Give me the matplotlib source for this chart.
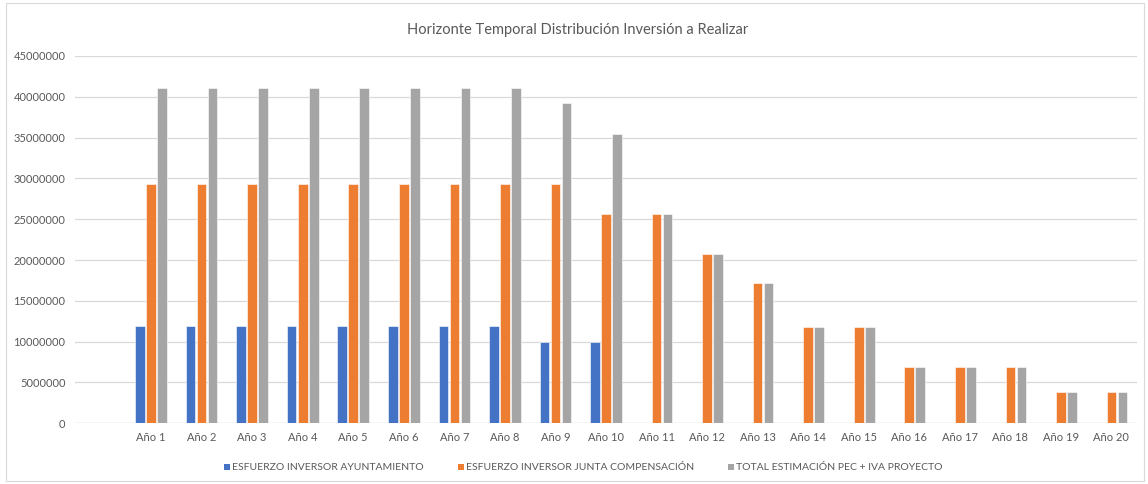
import matplotlib
matplotlib.use("Agg")
import matplotlib.pyplot as plt
from matplotlib.patches import Rectangle
import numpy as np

categories = ["", "Año 1", "Año 2", "Año 3", "Año 4", "Año 5", "Año 6", "Año 7", "Año 8", "Año 9", "Año 10",
              "Año 11", "Año 12", "Año 13", "Año 14", "Año 15", "Año 16", "Año 17", "Año 18", "Año 19", "Año 20"]
ayuntamiento = [0, 11900000, 11900000, 11900000, 11900000, 11900000, 11900000, 11900000, 11900000, 9900000, 9900000,
                0, 0, 0, 0, 0, 0, 0, 0, 0, 0]
junta = [0, 29300000, 29300000, 29300000, 29300000, 29300000, 29300000, 29300000, 29300000, 29300000, 25600000,
         25600000, 20700000, 17200000, 11800000, 11800000, 6950000, 6950000, 6950000, 3870000, 3870000]
total = [0, 41100000, 41100000, 41100000, 41100000, 41100000, 41100000, 41100000, 41100000, 39200000, 35500000,
         25600000, 20700000, 17200000, 11800000, 11800000, 6950000, 6950000, 6950000, 3870000, 3870000]
series_names = ["ESFUERZO INVERSOR AYUNTAMIENTO", "ESFUERZO INVERSOR JUNTA COMPENSACIÓN",
                "TOTAL ESTIMACIÓN PEC + IVA PROYECTO"]
title = "Horizonte Temporal Distribución Inversión a Realizar"
yticks = list(range(0, 45000001, 5000000))

colors = ["#4472C4", "#ED7D31", "#A5A5A5"]
text_color = "#595959"
font = ["Lato", "DejaVu Sans"]

W, H = 1148, 484
fig = plt.figure(figsize=(W / 100, H / 100), dpi=100)
fig.patch.set_facecolor("white")
ax = fig.add_axes([75.25 / W, 1 - 423.3 / H, (1136.7 - 75.25) / W, (423.3 - 56) / H])

x = np.arange(len(categories))
bw = 0.19
off = 0.218
for i, (vals, c, name) in enumerate(zip([ayuntamiento, junta, total], colors, series_names)):
    ax.bar(x + (i - 1) * off, vals, width=bw, color=c, edgecolor="white", linewidth=0.4,
           label=name, zorder=3)

ax.set_xlim(-0.5, len(categories) - 0.5)
ax.set_ylim(0, 45000000)
ax.set_yticks(yticks)
ax.set_yticklabels([str(v) for v in yticks], fontsize=8, color=text_color, family=font)
ax.set_xticks(x)
ax.set_xticklabels(categories, fontsize=8, color=text_color, family=font)
ax.tick_params(axis="both", length=0)
ax.tick_params(axis="y", pad=7)
ax.tick_params(axis="x", pad=6)
ax.grid(axis="y", color="#D9D9D9", linewidth=0.9, zorder=0)
for s in ax.spines.values():
    s.set_visible(False)
ax.axhline(0, color="#D9D9D9", linewidth=0.9, zorder=1)

fig.text(578 / W, 1 - 30 / H, title, ha="center", va="center", fontsize=10.5, color=text_color, family=font)

# legend entries (manual placement to match reference spacing)
legend_x = [224, 458, 728]
ly = 467
for lx, c, name in zip(legend_x, colors, series_names):
    fig.patches.append(Rectangle((lx / W, (H - ly - 3) / H), 6 / W, 6 / H, transform=fig.transFigure,
                                 facecolor=c, edgecolor="none"))
    fig.text((lx + 8) / W, 1 - ly / H, name, ha="left", va="center", fontsize=7.5,
             color=text_color, family=font)

fig.patches.append(Rectangle((6 / W, 3 / H), (W - 10) / W, (H - 6) / H, transform=fig.transFigure,
                             fill=False, edgecolor="#D9D9D9", linewidth=0.8))

fig.savefig("out.png", dpi=100, facecolor="white")
